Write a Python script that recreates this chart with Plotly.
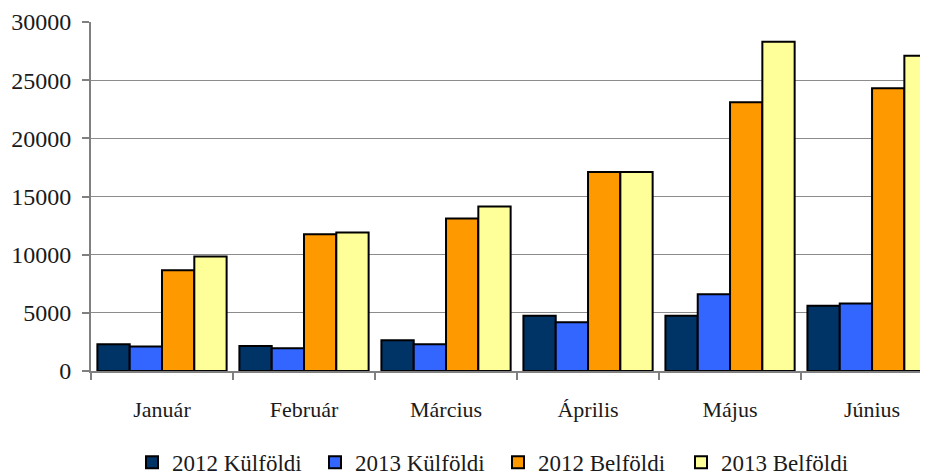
import plotly.graph_objects as go

# adatok
honapok = ['Január', 'Február', 'Március', 'Április', 'Május', 'Június']
kulfoldi_2012 = [2300, 2150, 2650, 4750, 4750, 5600]
kulfoldi_2013 = [2100, 1950, 2300, 4200, 6600, 5800]
belfoldi_2012 = [8650, 11750, 13100, 17100, 23100, 24300]
belfoldi_2013 = [9850, 11900, 14150, 17100, 28300, 27100]

sorozatok = [
    ('2012 Külföldi', kulfoldi_2012, '#003366'),
    ('2013 Külföldi', kulfoldi_2013, '#3366FF'),
    ('2012 Belföldi', belfoldi_2012, '#FF9900'),
    ('2013 Belföldi', belfoldi_2013, '#FFFF99'),
]

betu = dict(family='Liberation Serif, serif', size=22, color='#1a1a1a')

fig = go.Figure()
for nev, ertekek, szin in sorozatok:
    fig.add_trace(go.Bar(
        x=honapok, y=ertekek, name=nev,
        marker=dict(color=szin, line=dict(color='black', width=2)),
    ))

# a lap 8px-es body margója miatt 920x468
fig.update_layout(
    width=920, height=468,
    margin=dict(l=83, r=0, t=14, b=105, autoexpand=False),
    paper_bgcolor='white', plot_bgcolor='white',
    barmode='group', bargap=0.09, bargroupgap=0,
    font=betu,
    showlegend=True,
    legend=dict(orientation='h', x=0.049, xanchor='left', y=-0.2, yanchor='top',
                font=dict(betu, size=23), itemwidth=30, traceorder='normal',
                entrywidth=138, entrywidthmode='pixels'),
)
fig.update_xaxes(
    type='category', range=[-0.5, 5.394], tickson='boundaries', automargin=False,
    ticks='outside', ticklen=7, tickcolor='#808080', tickwidth=2,
    showline=True, linecolor='#808080', linewidth=2,
    showgrid=False, ticklabelstandoff=18, tickfont=betu,
)
fig.update_yaxes(
    range=[0, 30000], dtick=5000, tickformat='d', automargin=False,
    ticks='outside', ticklen=7, tickcolor='#808080', tickwidth=2,
    showline=True, linecolor='#808080', linewidth=2,
    showgrid=True, gridcolor='#8c8c8c', gridwidth=1,
    zeroline=False, tickfont=dict(betu, size=24), ticklabelstandoff=6,
)

fig.write_html('out.html')
